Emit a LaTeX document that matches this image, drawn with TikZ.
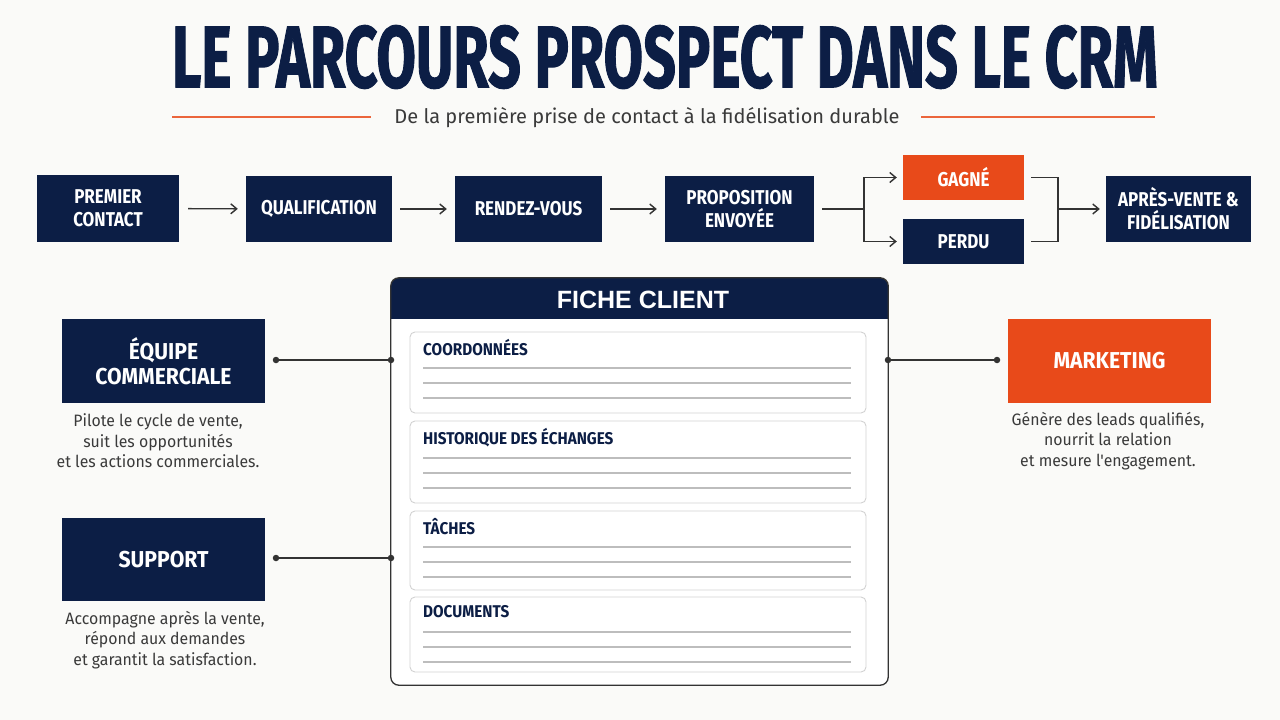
\documentclass[tikz,border=0pt]{standalone}
\usepackage{fontspec}
\usepackage{graphicx}
\usetikzlibrary{arrows.meta}
\setmainfont{Fira Sans}
\newfontfamily\titlefont[BoldFeatures={FakeBold=1.5}]{Fira Sans}
\newfontfamily\cond[FakeStretch=0.85]{Fira Sans}
\newfontfamily\condb[FakeStretch=0.92]{Fira Sans}
\newfontfamily\seclabf[FakeStretch=0.9]{Fira Sans}
\newfontfamily\bodyf[FakeStretch=0.96]{Fira Sans}
\newfontfamily\arialf{Liberation Sans}
\definecolor{navy}{HTML}{0C1E45}
\definecolor{orng}{HTML}{E84A1A}
\definecolor{ink}{HTML}{333333}
\definecolor{bodyc}{HTML}{3A3A3A}
\definecolor{secb}{HTML}{D2D2D2}
\definecolor{rule}{HTML}{BDBDBD}
\definecolor{bg}{HTML}{FAFAF8}
\tikzset{
  navybox/.style={fill=navy, text=white, align=center, inner sep=0pt,
    font=\cond\bfseries\fontsize{20}{23}\selectfont},
  bigbox/.style={fill=navy, text=white, align=center, inner sep=0pt,
    minimum width=203pt, minimum height=84pt,
    font=\condb\bfseries\fontsize{23}{25}\selectfont},
  arr/.style={draw=ink, line width=1.4pt, -{Straight Barb[length=6pt,width=10pt]}},
  link/.style={draw=ink, line width=1.4pt},
  dot/.style={circle, fill=ink, inner sep=0pt, minimum size=6.5pt},
  desc/.style={align=center, text=bodyc, font=\bodyf\fontsize{16.5}{20.5}\selectfont},
  sect/.style={draw=secb, line width=0.9pt, rounded corners=5pt, fill=white},
  seclab/.style={anchor=west, text=navy, inner sep=0pt, font=\seclabf\bfseries\fontsize{17}{19}\selectfont},
  secrule/.style={draw=rule, line width=1.1pt},
}
\begin{document}
\begin{tikzpicture}[x=1pt,y=-1pt]
\fill[bg] (0,0) rectangle (1280,720);
\useasboundingbox (0,0) rectangle (1280,720);

% title
\node[text=navy, inner sep=0pt] (title) at (665,57)
  {\titlefont\bfseries\fontsize{80}{80}\selectfont\resizebox{986pt}{62pt}{LE PARCOURS PROSPECT DANS LE CRM}};
\node[text=bodyc, inner sep=0pt, font=\fontsize{20}{23}\selectfont] (sub) at (647,118)
  {De la première prise de contact à la fidélisation durable};
\coordinate (l1a) at (172,117); \coordinate (l1b) at (371,117);
\coordinate (l2a) at (921,117); \coordinate (l2b) at (1155,117);
\draw[orng!85!white, line width=2pt] (l1a) -- (l1b);
\draw[orng!85!white, line width=2pt] (l2a) -- (l2b);

% top flow
\node[navybox, minimum width=142pt, minimum height=67pt] (n1) at (108,208.5) {PREMIER\\CONTACT};
\node[navybox, minimum width=146pt, minimum height=66pt] (n2) at (319,209) {QUALIFICATION};
\node[navybox, minimum width=147pt, minimum height=66pt] (n3) at (528.5,209) {RENDEZ-VOUS};
\node[navybox, minimum width=149pt, minimum height=66pt] (n4) at (739.5,209) {PROPOSITION\\ENVOYÉE};
\node[navybox, fill=orng, minimum width=121pt, minimum height=45pt] (gagne) at (963.5,177.5) {GAGNÉ};
\node[navybox, minimum width=121pt, minimum height=45pt] (perdu) at (963.5,241.5) {PERDU};
\node[navybox, minimum width=145pt, minimum height=66pt] (n7) at (1178.5,209) {APRÈS-VENTE \&\\FIDÉLISATION};

\draw[arr, shorten <=9pt, shorten >=8pt] (n1) -- (n2);
\draw[arr, shorten <=8pt, shorten >=8pt] (n2) -- (n3);
\draw[arr, shorten <=8pt, shorten >=8pt] (n3) -- (n4);
\coordinate (split) at (864,209);
\coordinate (merge) at (1058,209);
\draw[link, shorten <=8pt] (n4) -- (split);
\draw[arr, shorten >=6pt] (split) |- (gagne);
\draw[arr, shorten >=6pt] (split) |- (perdu);
\draw[link, shorten <=7pt] (gagne.east) -| (merge);
\draw[link, shorten <=7pt] (perdu.east) -| (merge);
\draw[arr, shorten >=6pt] (merge) -- (n7);

% fiche client
\node[minimum width=497pt, minimum height=407pt, inner sep=0pt] (fiche) at (639.5,481.5) {};
\begin{scope}
  \clip[rounded corners=8pt] (fiche.north west) rectangle (fiche.south east);
  \fill[white] (fiche.north west) rectangle (fiche.south east);
  \fill[navy] (fiche.north west) rectangle ([yshift=-41pt]fiche.north east);
\end{scope}
\draw[ink, line width=1.3pt, rounded corners=8pt] (fiche.north west) rectangle (fiche.south east);
\node[text=white, inner sep=0pt, font=\arialf\bfseries\fontsize{25}{28}\selectfont] (fctitle) at (643,300) {FICHE CLIENT};

\foreach \top/\bot/\lab/\off [count=\i] in {332/413/COORDONNÉES/16, 421/503/HISTORIQUE DES ÉCHANGES/17, 511/590/TÂCHES/16, 597/672/DOCUMENTS/15}{
  \draw[sect] (410,\top) rectangle (866,\bot);
  \node[seclab] (lab\i) at (423,\top+\off) {\lab};
  \draw[secrule] (423,\top+\off+20) -- (851,\top+\off+20);
  \draw[secrule] (423,\top+\off+35) -- (851,\top+\off+35);
  \draw[secrule] (423,\top+\off+50) -- (851,\top+\off+50);
}

% side boxes
\node[bigbox] (equipe) at (163.5,361) {ÉQUIPE\\COMMERCIALE};
\node[bigbox, minimum height=83pt] (support) at (163.5,559.5) {SUPPORT};
\node[bigbox, fill=orng] (mkt) at (1109.5,361) {MARKETING};

\node[desc] (dEq) at (158,441) {Pilote le cycle de vente,\\suit les opportunités\\et les actions commerciales.};
\node[desc] (dSu) at (165,640) {Accompagne après la vente,\\répond aux demandes\\et garantit la satisfaction.};
\node[desc] (dMk) at (1108,441) {Génère des leads qualifiés,\\nourrit la relation\\et mesure l'engagement.};

% connectors
\node[dot] (c1) at (276,360) {};
\node[dot] (c2) at (391,360) {};
\node[dot] (c3) at (276,558) {};
\node[dot] (c4) at (391,558) {};
\node[dot] (c5) at (888,360) {};
\node[dot] (c6) at (997,360) {};
\draw[link] (c1) -- (c2);
\draw[link] (c3) -- (c4);
\draw[link] (c5) -- (c6);
\end{tikzpicture}
\end{document}
